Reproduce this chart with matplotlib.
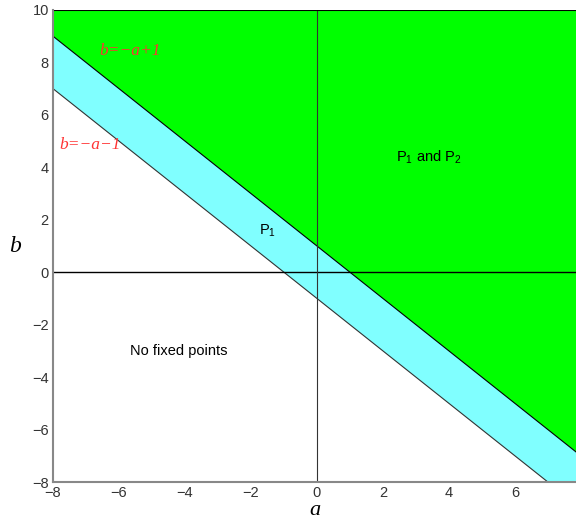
import matplotlib
matplotlib.use('Agg')
import matplotlib.pyplot as plt
import numpy as np

# Region boundaries b = -a + 1 and b = -a - 1
a_vals = np.array([-8.0, 8.0])
upper_offset = 1.0
lower_offset = -1.0
x_ticks = [-8, -6, -4, -2, 0, 2, 4, 6]
y_ticks = [-8, -6, -4, -2, 0, 2, 4, 6, 8, 10]
region_labels = ['P$_1$ and P$_2$', 'P$_1$', 'No fixed points']
line_labels = ['b=\u2212a+1', 'b=\u2212a\u22121']

plt.rcParams['font.family'] = ['Liberation Sans', 'DejaVu Sans']
plt.rcParams['mathtext.fontset'] = 'custom'
plt.rcParams['mathtext.rm'] = 'Liberation Sans'

fig = plt.figure(figsize=(5.76, 5.24), dpi=100)
ax = fig.add_axes([0.092, 0.080, 0.908, 0.901])

upper = -a_vals + upper_offset
lower = -a_vals + lower_offset
ax.fill_between(a_vals, upper, 10, color='#00ff00', linewidth=0)
ax.fill_between(a_vals, lower, upper, color='#80ffff', linewidth=0)
ax.plot(a_vals, upper, color='black', linewidth=0.8)
ax.plot(a_vals, lower, color='#333333', linewidth=0.8)

ax.axhline(0, color='black', linewidth=1.0)
ax.axvline(0, color='#333333', linewidth=0.8)
ax.axhline(10, color='black', linewidth=1.5)

ax.set_xlim(-8, 7.85)
ax.set_ylim(-8, 10)
ax.set_xticks(x_ticks)
ax.set_yticks(y_ticks)
ax.set_xticklabels([str(t).replace('-', '\u2212') for t in x_ticks])
ax.set_yticklabels([str(t).replace('-', '\u2212') for t in y_ticks])
ax.tick_params(length=0, labelsize=10.5, colors='#333333', pad=3)
for s in ['top', 'right']:
    ax.spines[s].set_visible(False)
for s in ['left', 'bottom']:
    ax.spines[s].set_color('#888888')
    ax.spines[s].set_linewidth(1.5)

ax.set_xlabel('a', fontsize=16, family='Liberation Serif', style='italic', va='top')
ax.xaxis.set_label_coords(0.5, -0.040)
ax.set_ylabel('b', fontsize=17, family='Liberation Serif', style='italic',
              rotation=0, labelpad=12, va='center')

ax.text(3.4, 4.4, region_labels[0], fontsize=10.5, ha='center', va='center')
ax.text(-1.5, 1.6, region_labels[1], fontsize=10.5, ha='center', va='center')
ax.text(-4.2, -3.0, region_labels[2], fontsize=10.5, ha='center', va='center')
ax.text(-6.6, 8.45, line_labels[0], fontsize=12.5, color='#ff3333', family='Liberation Serif',
        style='italic', ha='left', va='center')
ax.text(-7.8, 4.85, line_labels[1], fontsize=12.5, color='#ff3333', family='Liberation Serif',
        style='italic', ha='left', va='center')

fig.savefig('out.png', dpi=100)
